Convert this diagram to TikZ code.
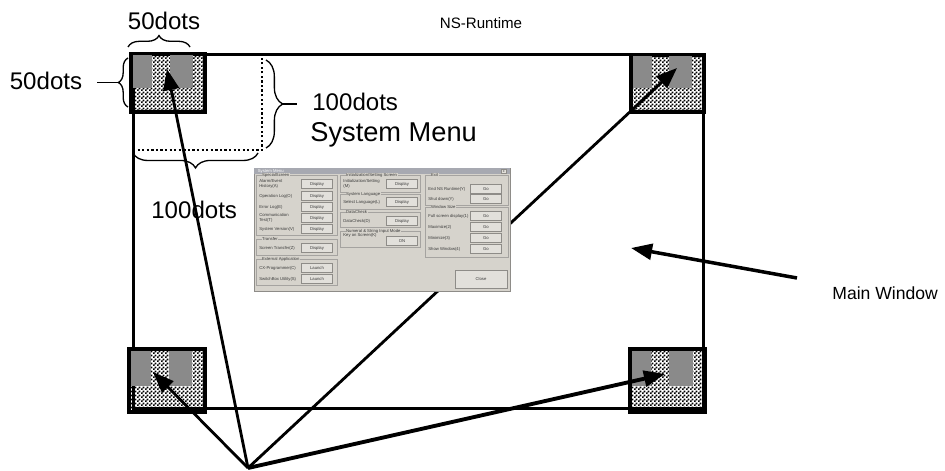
\documentclass[tikz,border=0pt]{standalone}
\usepackage{fontspec}
\setmainfont{Liberation Sans}
\usetikzlibrary{arrows.meta,positioning,calc,patterns,decorations.pathreplacing}
\definecolor{DlgFace}{HTML}{D6D3CC}
\definecolor{DlgBar}{HTML}{A7A9B1}
\definecolor{DlgEdge}{HTML}{8E8C88}
\definecolor{DlgText}{HTML}{3A3A3A}
\definecolor{ZoneGray}{HTML}{8A8A8A}

\pgfdeclarepatternformonly{finechecker}{\pgfpointorigin}{\pgfqpoint{2.3pt}{2.3pt}}{\pgfqpoint{2.3pt}{2.3pt}}{%
  \pgfpathrectangle{\pgfpointorigin}{\pgfqpoint{1.15pt}{1.15pt}}%
  \pgfpathrectangle{\pgfqpoint{1.15pt}{1.15pt}}{\pgfqpoint{1.15pt}{1.15pt}}%
  \pgfusepath{fill}}

\newcommand{\dlgfont}{\fontsize{2.4pt}{2.9pt}\selectfont}

\tikzset{
  winbox/.style={draw, line width=1.6pt, anchor=north west, inner sep=0pt},
  cornerzone/.style={draw, line width=2pt, pattern=finechecker, anchor=north west, inner sep=0pt},
  dotline/.style={line width=1.7pt, dash pattern=on 1.3pt off 1.3pt},
  dots/.style={font=\fontsize{13.7pt}{16pt}\selectfont, inner sep=0pt},
  bigtext/.style={font=\fontsize{15.5pt}{18pt}\selectfont, inner sep=0pt},
  smalltext/.style={font=\fontsize{8.6pt}{10pt}\selectfont, inner sep=0pt},
  brace/.style={decorate, decoration={brace, amplitude=#1}, line width=0.75pt},
  ptr/.style={-{Triangle[length=12pt,width=9pt]}, line width=1.6pt},
  dlgbox/.style={draw=DlgEdge, fill=DlgFace, line width=0.4pt, anchor=north west, inner sep=0pt},
  grp/.style={draw=DlgEdge!80, line width=0.25pt, anchor=north west, inner sep=0pt},
  grptitle/.style={fill=DlgFace, text=DlgText, font=\dlgfont, inner sep=0.3pt, anchor=west},
  rowtext/.style={text=DlgText, font=\dlgfont, align=left, inner sep=0pt, anchor=west},
  btn/.style={draw=DlgEdge, fill=DlgFace!70!white, text=DlgText, font=\dlgfont,
              minimum width=0.62cm, minimum height=0.18cm, inner sep=0pt, line width=0.3pt},
}

% corner zone: name, x, y (top left), width, height
\newcommand{\cornerbox}[5]{%
  \node[cornerzone, minimum width=#4*0.02cm, minimum height=#5*0.02cm] (#1) at (#2,#3) {};
  \fill[ZoneGray] ($(#1.north west)+({0.05*#4},{0.06*#5})$) rectangle ($(#1.north west)+({0.31*#4},{0.62*#5})$);
  \fill[ZoneGray] ($(#1.north west)+({0.55*#4},{0.06*#5})$) rectangle ($(#1.north west)+({0.86*#4},{0.62*#5})$);
}

\begin{document}
\begin{tikzpicture}[x=0.02cm, y=-0.02cm]
  \useasboundingbox (0,0) rectangle (945,470);

  \node[smalltext] (title) at (481,23) {NS-Runtime};

  % main window with the four corner zones
  \node[winbox, minimum width=11.4cm, minimum height=7.08cm] (win) at (132,53) {};
  \cornerbox{tl}{129}{52}{74}{58}
  \cornerbox{tr}{629}{53}{73}{57}
  \cornerbox{bl}{127}{347}{76}{63}
  \cornerbox{br}{628}{347}{75}{63}

  % system menu zone
  \coordinate (smA) at (133,150);
  \coordinate (smB) at (262,150);
  \coordinate (smC) at (262,58);
  \draw[dotline] (smA) -- (smB) -- (smC);

  % sizes
  \node[dots] (wtop) at (164,21) {50dots};
  \draw[brace=6.5pt] ($(tl.north west)+(-1,-5)$) -- ($(tl.north west)+(61,-5)$);

  \node[dots] (hleft) at (46,81) {50dots};
  \coordinate (lbot) at (128,107);
  \coordinate (ltop) at (128,58);
  \coordinate (ltip) at (118,82.5);
  \coordinate (lend) at (97,82.5);
  \draw[brace=5.5pt] (lbot) -- (ltop);
  \draw[line width=0.75pt] (ltip) -- (lend);

  \coordinate (rtop) at (266,60);
  \coordinate (rbot) at (266,148);
  \coordinate (rtip) at (283,104);
  \coordinate (rend) at (297,104);
  \draw[brace=9.5pt] (rtop) -- (rbot);
  \draw[line width=0.75pt] (rtip) -- (rend);
  \node[dots, anchor=west] (hmenu) at (312,102) {100dots};
  \node[bigtext, anchor=west] (menu) at (310,135) {System Menu};

  \coordinate (bright) at (258,153);
  \coordinate (bleft) at (133,153);
  \draw[brace=8.5pt] (bright) -- (bleft);
  \node[dots, anchor=west] (wmenu) at (151,210) {100dots};

  % pointers to the corner zones
  \coordinate (src) at (248,468);
  \coordinate (tlp) at (167,69);
  \coordinate (trp) at (677,68);
  \coordinate (blp) at (153,372);
  \coordinate (brp) at (665,374);
  \draw[ptr] (src) -- (tlp);
  \draw[ptr] (src) -- (trp);
  \draw[ptr] (src) -- (blp);
  \draw[ptr, line width=2.2pt] (src) -- (brp);

  \node[smalltext, font=\fontsize{10pt}{12pt}\selectfont, anchor=west] (mainw) at (832,293) {Main Window};
  \coordinate (mwp) at (631,248);
  \coordinate (mws) at (797,278);
  \draw[ptr, line width=2pt] (mws) -- (mwp);

  % system menu dialog
  \node[dlgbox, minimum width=5.12cm, minimum height=2.46cm] (dlg) at (254,168) {};
  \node[fill=DlgBar, anchor=north west, inner sep=0pt, minimum width=5.12cm, minimum height=0.12cm] (dlgbar) at (dlg.north west) {};
  \node[font=\dlgfont, text=white, inner sep=0pt, anchor=west] (dlgname) at ([xshift=2pt]dlgbar.west) {System Menu};
  \node[btn, minimum width=0.1cm, minimum height=0.09cm, font=\fontsize{2pt}{2pt}\selectfont] (dlgx) at ([xshift=-4pt]dlgbar.east) {x};

  \node[grp, minimum width=1.62cm, minimum height=1.2cm] (gspec) at (256,175) {};
  \node[grptitle] at ([xshift=3pt]gspec.north west) {SpecialScreen};
  \node[rowtext] (r1) at (259,184) {Alarm/Event\\History(A)};
  \node[btn] (b1) at (317,184) {Display};
  \node[rowtext] (r2) at (259,196) {Operation Log(O)};
  \node[btn] (b2) at (317,196) {Display};
  \node[rowtext] (r3) at (259,207) {Error Log(E)};
  \node[btn] (b3) at (317,207) {Display};
  \node[rowtext] (r4) at (259,218) {Communication\\Test(T)};
  \node[btn] (b4) at (317,218) {Display};
  \node[rowtext] (r5) at (259,229) {System Version(V)};
  \node[btn] (b5) at (317,229) {Display};

  \node[grp, minimum width=1.62cm, minimum height=0.32cm] (gtrans) at (256,239) {};
  \node[grptitle] at ([xshift=3pt]gtrans.north west) {Transfer};
  \node[rowtext] (r6) at (259,248) {Screen Transfer(Z)};
  \node[btn] (b6) at (317,248) {Display};

  \node[grp, minimum width=1.62cm, minimum height=0.52cm] (gext) at (256,259) {};
  \node[grptitle] at ([xshift=3pt]gext.north west) {External Application};
  \node[rowtext] (r7) at (259,268) {CX-Programmer(C)};
  \node[btn] (b7) at (317,268) {Launch};
  \node[rowtext] (r8) at (259,279) {SwitchBox Utility(S)};
  \node[btn] (b8) at (317,279) {Launch};

  \node[grp, minimum width=1.6cm, minimum height=0.34cm] (ginit) at (340,175) {};
  \node[grptitle] at ([xshift=3pt]ginit.north west) {Initialization/Setting Screen};
  \node[rowtext] (r9) at (343,184) {Initialization/Setting\\(M)};
  \node[btn] (b9) at (402,184) {Display};

  \node[grp, minimum width=1.6cm, minimum height=0.3cm] (glang) at (340,194) {};
  \node[grptitle] at ([xshift=3pt]glang.north west) {System Language};
  \node[rowtext] (r10) at (343,202) {Select Language(L)};
  \node[btn] (b10) at (402,202) {Display};

  \node[grp, minimum width=1.6cm, minimum height=0.3cm] (gdata) at (340,212) {};
  \node[grptitle] at ([xshift=3pt]gdata.north west) {DataCheck};
  \node[rowtext] (r11) at (343,221) {DataCheck(D)};
  \node[btn] (b11) at (402,221) {Display};

  \node[grp, minimum width=1.6cm, minimum height=0.32cm] (gnum) at (340,231) {};
  \node[grptitle] at ([xshift=3pt]gnum.north west) {Numeral \& String Input Mode};
  \node[rowtext] (r12) at (343,235.5) {Key on Screen(K)};
  \node[btn] (b12) at (402,241) {ON};

  \node[grp, minimum width=1.66cm, minimum height=0.6cm] (gexit) at (425,175) {};
  \node[grptitle] at ([xshift=3pt]gexit.north west) {Exit};
  \node[rowtext] (r13) at (428,189) {End NS Runtime(Y)};
  \node[btn] (b13) at (486,189) {Go};
  \node[rowtext] (r14) at (428,199) {Shut down(Y)};
  \node[btn] (b14) at (486,199) {Go};

  \node[grp, minimum width=1.66cm, minimum height=1.0cm] (gwin) at (425,207) {};
  \node[grptitle] at ([xshift=3pt]gwin.north west) {Window Size};
  \node[rowtext] (r15) at (428,216) {Full screen display(1)};
  \node[btn] (b15) at (486,216) {Go};
  \node[rowtext] (r16) at (428,227) {Maximize(2)};
  \node[btn] (b16) at (486,227) {Go};
  \node[rowtext] (r17) at (428,238) {Minimize(3)};
  \node[btn] (b17) at (486,238) {Go};
  \node[rowtext] (r18) at (428,249) {Show Window(4)};
  \node[btn] (b18) at (486,249) {Go};

  \node[btn, minimum width=1.04cm, minimum height=0.36cm] (close) at (481,279) {Close};
\end{tikzpicture}
\end{document}
